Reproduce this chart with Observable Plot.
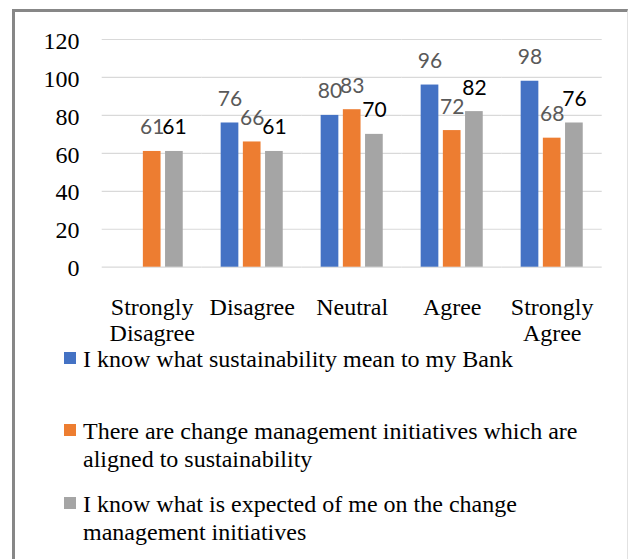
<!DOCTYPE html>
<html>
<head>
<meta charset="utf-8">
<script src="https://cdn.jsdelivr.net/npm/d3@7"></script>
<script src="https://cdn.jsdelivr.net/npm/@observablehq/plot@0.6"></script>
<style>
  html, body { margin: 0; padding: 0; background: #fff; }
  body { position: relative; width: 630px; height: 559px; overflow: hidden; }
  #frame {
    position: absolute; left: 12px; top: 9px; width: 616px; height: 570px;
    border-left: 3px solid #878787; border-top: 3px solid #878787; border-right: 1px solid #e2e2e2;
    box-sizing: border-box;
  }
  #chart { position: absolute; left: 0; top: 0; }
  .entry {
    position: absolute; left: 64px; width: 540px;
    font-family: "Liberation Serif", "Times New Roman", serif; font-size: 24px; line-height: 28px; color: #000;
  }
  .entry .swatch { position: absolute; left: 0; top: 7.5px; width: 12px; height: 12px; }
  .entry .text { margin-left: 19px; max-width: 500px; }
</style>
</head>
<body>
<div id="frame"></div>
<div id="chart"></div>
<div id="legend"></div>
<script>
// Response categories along the x axis (with their two-line axis labels)
const categories = ["Strongly Disagree", "Disagree", "Neutral", "Agree", "Strongly Agree"];
const categoryLabels = ["Strongly\nDisagree", "Disagree", "Neutral", "Agree", "Strongly\nAgree"];

// Survey statements (series)
const seriesNames = [
  "I know what sustainability mean to my Bank",
  "There are change management initiatives which are aligned to sustainability",
  "I know what is expected of me on the change management initiatives"
];

// Counts per category for each statement (null = no response recorded)
const knowMeaning = [null, 76, 80, 96, 98];
const changeInitiatives = [61, 66, 83, 72, 68];
const knowExpected = [61, 61, 70, 82, 76];

const yTicks = [0, 20, 40, 60, 80, 100, 120];

const seriesColors = ["#4472C4", "#ED7D31", "#A5A5A5"];
const labelColors = ["#595959", "#595959", "#000000"];

const valuesBySeries = [knowMeaning, changeInitiatives, knowExpected];
const rows = [];
categories.forEach((c, i) => {
  valuesBySeries.forEach((vals, s) => {
    if (vals[i] != null) rows.push({category: c, series: seriesNames[s], value: vals[i]});
  });
});

const labelOf = new Map(categories.map((c, i) => [c, categoryLabels[i]]));
const labelColor = new Map(seriesNames.map((s, i) => [s, labelColors[i]]));
const serif = "Liberation Serif";

const chart = Plot.plot({
  width: 630,
  height: 350,
  marginTop: 39,
  marginBottom: 83.3,
  marginLeft: 101.7,
  marginRight: 28.3,
  style: {fontFamily: serif, fontSize: "24px", color: "#000", background: "transparent"},
  fx: {domain: categories, padding: 0, round: false, axis: null},
  x: {domain: seriesNames, paddingInner: 0.203, paddingOuter: 0.854, round: false, axis: null},
  y: {domain: [0, 120], axis: null},
  color: {domain: seriesNames, range: seriesColors},
  marks: [
    Plot.gridY(yTicks, {stroke: "#d9d9d9", strokeOpacity: 1, strokeWidth: 1.2}),
    // y tick labels, drawn once beside the leftmost facet
    Plot.text(yTicks, {
      y: d => d, text: d => String(d), facetAnchor: "left",
      frameAnchor: "left", textAnchor: "end", dx: -22.7, dy: 1.5,
      fontFamily: serif, fontSize: 24, fill: "#000"
    }),
    Plot.barY(rows, {fx: "category", x: "series", y: "value", fill: "series"}),
    Plot.text(rows, {
      fx: "category", x: "series", y: "value", text: d => String(d.value),
      lineAnchor: "bottom", dy: -17,
      fill: d => labelColor.get(d.series),
      fontFamily: "Lato, 'Liberation Sans', sans-serif", fontSize: 21
    }),
    Plot.text(categories, {
      fx: d => d, text: d => labelOf.get(d),
      frameAnchor: "bottom", lineAnchor: "top", dy: 28.6, lineHeight: 1.11,
      fontFamily: serif, fontSize: 24, fill: "#000"
    })
  ]
});
document.getElementById("chart").appendChild(chart);

// Legend: colour swatch + statement text, stacked below the chart
const legendTops = [344.6, 416.6, 489.8];
const legend = document.getElementById("legend");
seriesNames.forEach((name, i) => {
  const entry = document.createElement("div");
  entry.className = "entry";
  entry.style.top = legendTops[i] + "px";
  const sw = document.createElement("div");
  sw.className = "swatch";
  sw.style.background = seriesColors[i];
  const tx = document.createElement("div");
  tx.className = "text";
  tx.textContent = name;
  entry.appendChild(sw);
  entry.appendChild(tx);
  legend.appendChild(entry);
});
</script>
</body>
</html>
